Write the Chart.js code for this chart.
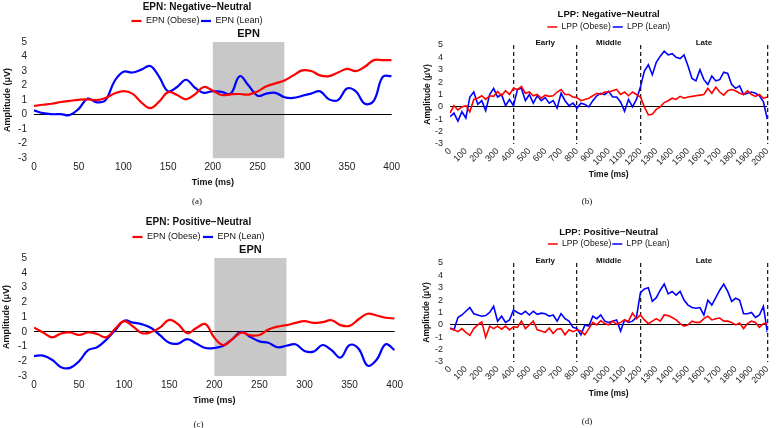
<!DOCTYPE html>
<html>
<head>
<meta charset="utf-8">
<title>EPN / LPP difference waves</title>
<script src="https://cdn.jsdelivr.net/npm/chart.js@4.4.1/dist/chart.umd.min.js"></script>
<style>
  html, body { margin: 0; padding: 0; background: #fff; }
  body { position: relative; width: 777px; height: 428px; overflow: hidden; }
  canvas { position: absolute; }
</style>
</head>
<body>
<canvas id="epnNeg" width="403" height="212" style="left:0;top:0"></canvas>
<canvas id="lppNeg" width="377" height="212" style="left:400px;top:0"></canvas>
<canvas id="epnPos" width="406" height="218" style="left:0;top:213px"></canvas>
<canvas id="lppPos" width="377" height="218" style="left:400px;top:213px"></canvas>
<script>
// time axes (ms)
const epnTimes = [0, 10, 20, 30, 40, 50, 60, 70, 80, 90, 100, 110, 120, 130, 140, 150, 160, 170, 180, 190, 200,
  210, 220, 230, 240, 250, 260, 270, 280, 290, 300, 310, 320, 330, 340, 350, 360, 370, 380, 390, 400];
const lppTimes = [0, 25, 50, 75, 100, 125, 150, 175, 200, 225, 250, 275, 300, 325, 350, 375, 400, 425, 450, 475,
  500, 525, 550, 575, 600, 625, 650, 675, 700, 725, 750, 775, 800, 825, 850, 875, 900, 925, 950, 975,
  1000, 1025, 1050, 1075, 1100, 1125, 1150, 1175, 1200, 1225, 1250, 1275, 1300, 1325, 1350, 1375, 1400, 1425, 1450, 1475,
  1500, 1525, 1550, 1575, 1600, 1625, 1650, 1675, 1700, 1725, 1750, 1775, 1800, 1825, 1850, 1875, 1900, 1925, 1950, 1975, 2000];

// EPN amplitudes (µV)
const epnNegObese = [0.6, 0.68, 0.75, 0.87, 0.95, 1.02, 1.05, 1.0, 1.15, 1.45, 1.62, 1.45, 0.85, 0.45, 0.9, 1.55, 1.35, 1.05, 1.4, 1.9, 1.65,
  1.35, 1.4, 1.42, 1.38, 1.6, 1.95, 2.15, 2.35, 2.7, 3.05, 3.0, 2.7, 2.65, 2.9, 3.15, 3.0, 3.3, 3.75, 3.75, 3.75];
const epnNegLean = [0.3, 0.1, 0.03, 0.03, -0.03, 0.4, 1.1, 0.85, 1.0, 2.3, 2.95, 2.9, 3.1, 3.35, 2.6, 1.6, 1.9, 2.4, 1.85, 1.5, 1.62,
  1.57, 1.45, 2.65, 2.0, 1.3, 1.45, 1.5, 1.2, 1.15, 1.3, 1.45, 1.6, 1.05, 1.0, 1.8, 1.6, 0.75, 0.95, 2.6, 2.65];
const epnPosObese = [0.28, -0.05, -0.38, -0.12, -0.05, -0.22, -0.05, -0.15, -0.38, 0.2, 0.72, 0.35, -0.1, -0.02, 0.3, 0.8, 0.5, -0.1, 0.25, 0.52, -0.4,
  -0.9, -0.5, -0.06, -0.25, -0.22, 0.15, 0.35, 0.45, 0.6, 0.72, 0.6, 0.65, 0.78, 0.45, 0.4, 0.85, 1.22, 1.1, 0.95, 0.9];
const epnPosLean = [-1.65, -1.62, -1.9, -2.4, -2.45, -2.0, -1.25, -1.05, -0.55, 0.1, 0.75, 0.62, 0.5, 0.25, -0.25, -0.75, -0.8, -0.5, -0.8, -1.1, -1.1,
  -0.95, -0.5, 0.0, -0.35, -0.65, -0.75, -1.05, -0.95, -0.85, -1.3, -1.35, -0.9, -1.25, -1.75, -0.9, -1.15, -2.3, -1.9, -0.85, -1.25];

// LPP amplitudes (µV)
const lppNegObese = [-0.5, 0.1, -0.25, 0.0, 0.1, -0.4, 0.6, 0.7, 0.9, 0.6,
  0.9, 0.85, 1.25, 0.9, 1.3, 1.0, 1.5, 1.4, 1.65, 1.1,
  1.2, 0.9, 1.0, 0.7, 0.95, 0.85, 0.9, 1.2, 1.4, 1.0,
  1.0, 0.8, 0.75, 0.5, 0.6, 0.7, 0.9, 1.1, 1.0, 1.2,
  1.2, 1.3, 1.4, 1.0, 1.2, 0.9, 1.2, 1.0, 0.8, 0.0,
  -0.65, -0.6, -0.2, 0.0, 0.35, 0.5, 0.7, 0.6, 0.85, 0.7,
  0.8, 0.85, 0.9, 0.95, 1.0, 1.5, 1.1, 1.6, 1.2, 0.95,
  1.3, 1.4, 1.3, 1.1, 1.0, 1.3, 1.0, 0.85, 1.0, 0.7, 0.8];
const lppNegLean = [-0.8, -0.5, -1.15, -0.4, -0.9, 0.8, 1.2, 0.2, 0.5, -0.3,
  1.0, 1.5, 0.8, 1.0, 0.1, 0.6, 0.1, 1.4, 1.5, 0.5,
  1.0, 0.3, 0.9, 0.5, 0.75, 0.3, 0.5, -0.1, 1.1, 0.5,
  0.1, 0.3, -0.1, 0.3, 0.2, 0.0, 0.5, 0.9, 1.1, 1.0,
  1.25, 0.8, 0.8, 0.4, -0.35, 0.6, 0.0, 0.6, 1.6, 2.9,
  3.4, 2.6, 3.6, 4.1, 4.5, 4.2, 4.3, 4.0, 3.9, 4.2,
  3.3, 2.3, 2.1, 3.0, 2.2, 1.8, 2.5, 2.1, 2.2, 2.8,
  2.7, 1.8, 1.5, 1.7, 1.0, 1.1, 1.2, 1.1, 0.9, 0.4, -1.0];
const lppPosObese = [-0.3, -0.4, -0.55, -0.3, -0.6, -0.85, -0.3, 0.0, 0.25, -1.0,
  -0.1, -0.3, -0.1, -0.35, -0.1, -0.4, -0.15, -0.2, 0.3, -0.3,
  0.0, 0.3, -0.4, -0.5, -0.6, -0.25, -0.7, -0.35, -0.3, -0.8,
  -0.4, -0.55, -0.4, -0.5, -0.8, -0.3, 0.2, 0.0, 0.35, 0.1,
  0.0, 0.3, 0.05, 0.2, 0.4, 0.3, 0.95, 0.5, 0.8, 0.4,
  0.1, 0.3, 0.5, 0.3, 0.8, 0.75, 0.6, 0.4, 0.1, -0.1,
  0.0, 0.3, 0.2, 0.2, 0.5, 0.7, 0.4, 0.5, 0.55, 0.3,
  0.3, 0.2, 0.0, 0.15, -0.3, 0.1, 0.3, 0.2, -0.2, 0.1, 0.1];
const lppPosLean = [-0.25, -0.4, 0.6, 0.8, 1.1, 1.4, 0.9, 0.8, 0.7, 0.75,
  1.0, 1.5, 0.3, 0.7, 0.2, 0.4, 1.2, 1.0, 0.85, 1.1,
  0.8, 1.1, 0.85, 0.95, 0.9, 0.7, 0.8, 0.3, 0.9, 0.5,
  0.3, -0.2, -0.3, -0.8, 0.0, -0.1, 0.7, 0.5, 0.8, 0.3,
  0.2, 0.3, 0.4, -0.5, 0.4, 0.2, 0.3, 0.6, 2.6, 2.9,
  3.0, 1.9, 2.2, 2.8, 3.3, 2.5, 2.7, 2.4, 2.7, 2.0,
  1.6, 1.4, 1.35, 1.4, 0.8, 2.0, 1.6, 2.2, 2.8, 3.3,
  2.7, 1.9, 2.15, 2.0, 0.9, 0.9, 1.0, 0.6, 0.8, 1.5, -0.6];

// analysis windows
const epnWindow = [200, 280];
const lppBounds = [400, 800, 1200, 2000];
const lppWindowNames = ['Early', 'Middle', 'Late'];

const RED = '#ff0000';
const BLUE = '#0000ff';
const FONT = '"Liberation Sans", Arial, sans-serif';

Chart.defaults.font.family = FONT;
Chart.defaults.color = '#1a1a1a';
Chart.defaults.animation = false;

function toPoints(times, values) {
  return times.map((t, i) => ({ x: t, y: values[i] }));
}

// leaves some room under the legend
const legendGap = {
  id: 'legendGap',
  afterInit(chart, args, opts) {
    const legend = chart.legend;
    if (!legend) return;
    const fit = legend.fit;
    legend.fit = function () {
      fit.call(this);
      this.height += opts.extra || 0;
    };
  }
};

// grey EPN window + window labels
const marks = {
  id: 'marks',
  beforeDraw(chart, args, opts) {
    if (!opts.shade) return;
    const { ctx, scales: { x, y } } = chart;
    const left = x.getPixelForValue(opts.shade[0]);
    const right = x.getPixelForValue(opts.shade[1]);
    const top = y.getPixelForValue(y.max);
    const bottom = y.getPixelForValue(y.min);
    ctx.save();
    ctx.fillStyle = '#c8c8c8';
    ctx.fillRect(left, top, right - left, bottom - top);
    ctx.restore();
  },
  afterDraw(chart, args, opts) {
    const { ctx, chartArea, scales: { x } } = chart;
    ctx.save();
    ctx.fillStyle = '#111';
    ctx.textAlign = 'center';
    ctx.textBaseline = 'middle';
    ctx.font = opts.labelFont;
    (opts.labels || []).forEach(l => {
      ctx.fillText(l.text, x.getPixelForValue(l.at), chartArea.top + opts.labelOffset);
    });
    ctx.restore();
  }
};

function makeChart(id, p) {
  const isLpp = p.kind === 'lpp';
  const xScale = isLpp ? {
    type: 'linear', min: 0, max: 2000,
    ticks: { stepSize: 100, autoSkip: false, minRotation: 45, maxRotation: 45, padding: 2,
      font: { size: 9 }, color: '#222', callback: v => String(v) },
    grid: {
      drawTicks: false, lineWidth: 1.3,
      color: c => lppBounds.includes(c.tick.value) ? '#222' : 'rgba(0,0,0,0)'
    },
    border: { display: false, dash: [4, 3] },
    title: { display: true, text: 'Time (ms)', font: { size: 8.5, weight: 'bold' }, padding: 0, color: '#111' },
    afterFit: s => { s.height = p.xHeight; }
  } : {
    type: 'linear', min: 0, max: 400,
    ticks: { stepSize: 50, maxRotation: 0, padding: 3, font: { size: 10 }, color: '#222' },
    grid: { display: false, drawTicks: false },
    border: { display: false },
    title: { display: true, text: 'Time (ms)', font: { size: 9, weight: 'bold' }, padding: 0, color: '#111' },
    afterFit: s => { s.height = p.xHeight; }
  };

  const labels = isLpp
    ? lppWindowNames.map((n, i) => ({ text: n, at: (lppBounds[i] + lppBounds[i + 1]) / 2 }))
    : [{ text: 'EPN', at: (epnWindow[0] + epnWindow[1]) / 2 }];

  return new Chart(document.getElementById(id), {
    type: 'line',
    data: {
      datasets: [
        { label: p.names[0], data: toPoints(p.times, p.obese), borderColor: RED, backgroundColor: RED,
          borderWidth: isLpp ? 1.6 : 2.2, pointRadius: 0, tension: isLpp ? 0 : 0.4 },
        { label: p.names[1], data: toPoints(p.times, p.lean), borderColor: BLUE, backgroundColor: BLUE,
          borderWidth: isLpp ? 1.6 : 2.2, pointRadius: 0, tension: isLpp ? 0 : 0.4 }
      ]
    },
    options: {
      responsive: false,
      devicePixelRatio: 1,
      layout: { padding: { left: 0, right: p.padRight, top: 0, bottom: 0 } },
      plugins: {
        title: {
          display: true, text: p.title, fullSize: !isLpp, color: '#111',
          font: { size: isLpp ? 9.5 : 10, weight: 'bold' }, padding: p.titlePad
        },
        subtitle: {
          display: true, position: 'bottom', text: p.caption, color: '#111',
          font: { family: '"Liberation Serif", "DejaVu Serif", serif', size: 9 }, padding: p.capPad
        },
        legend: {
          position: 'top', fullSize: !isLpp,
          labels: {
            usePointStyle: true, pointStyle: 'line', pointStyleWidth: 10,
            font: { size: isLpp ? 8.5 : 9 }, padding: p.legendPad, color: '#111'
          }
        },
        legendGap: { extra: p.legendExtra },
        marks: {
          shade: isLpp ? null : epnWindow,
          labels: labels,
          labelFont: isLpp ? 'bold 8px ' + FONT : 'bold 11px ' + FONT,
          labelOffset: isLpp ? -2 : -8
        },
        tooltip: { enabled: false }
      },
      scales: {
        x: xScale,
        y: {
          min: -3, max: 5,
          ticks: { stepSize: 1, autoSkip: false, padding: 7, font: { size: isLpp ? 9 : 10 }, color: '#222' },
          grid: { drawTicks: false, lineWidth: 1, color: c => c.tick.value === 0 ? '#000' : 'rgba(0,0,0,0)' },
          border: { display: false },
          title: {
            display: true, text: 'Amplitude (μV)', color: '#111',
            font: { size: isLpp ? 8.5 : 9, weight: 'bold' }, padding: { top: p.yTitlePad, bottom: 0 }
          },
          afterFit: s => { s.width = p.yWidth; }
        }
      }
    },
    plugins: [legendGap, marks]
  });
}

makeChart('epnNeg', {
  kind: 'epn', title: 'EPN: Negative−Neutral', caption: '(a)',
  names: ['EPN (Obese)', 'EPN (Lean)'], times: epnTimes, obese: epnNegObese, lean: epnNegLean,
  titlePad: { top: 1, bottom: 2 }, legendPad: 1.5, legendExtra: 6.5,
  xHeight: 30, capPad: { top: 8, bottom: 5 }, yWidth: 34, yTitlePad: 2.6, padRight: 9
});
makeChart('lppNeg', {
  kind: 'lpp', title: 'LPP: Negative−Neutral', caption: '(b)',
  names: ['LPP (Obese)', 'LPP (Lean)'], times: lppTimes, obese: lppNegObese, lean: lppNegLean,
  titlePad: { top: 8.3, bottom: 1 }, legendPad: 2, legendExtra: 3.8,
  xHeight: 36, capPad: { top: 16.6, bottom: 4.6 }, yWidth: 50, yTitlePad: 22.9, padRight: 3
});
makeChart('epnPos', {
  kind: 'epn', title: 'EPN: Positive−Neutral', caption: '(c)',
  names: ['EPN (Obese)', 'EPN (Lean)'], times: epnTimes, obese: epnPosObese, lean: epnPosLean,
  titlePad: { top: 3, bottom: 2 }, legendPad: 2.5, legendExtra: 6.5,
  xHeight: 30, capPad: { top: 13.6, bottom: 0.6 }, yWidth: 34, yTitlePad: 1.6, padRight: 9
});
makeChart('lppPos', {
  kind: 'lpp', title: 'LPP: Positive−Neutral', caption: '(d)',
  names: ['LPP (Obese)', 'LPP (Lean)'], times: lppTimes, obese: lppPosObese, lean: lppPosLean,
  titlePad: { top: 13.3, bottom: 1 }, legendPad: 1, legendExtra: 4.8,
  xHeight: 37, capPad: { top: 17.6, bottom: 3.6 }, yWidth: 50, yTitlePad: 21.6, padRight: 3
});
</script>
</body>
</html>
